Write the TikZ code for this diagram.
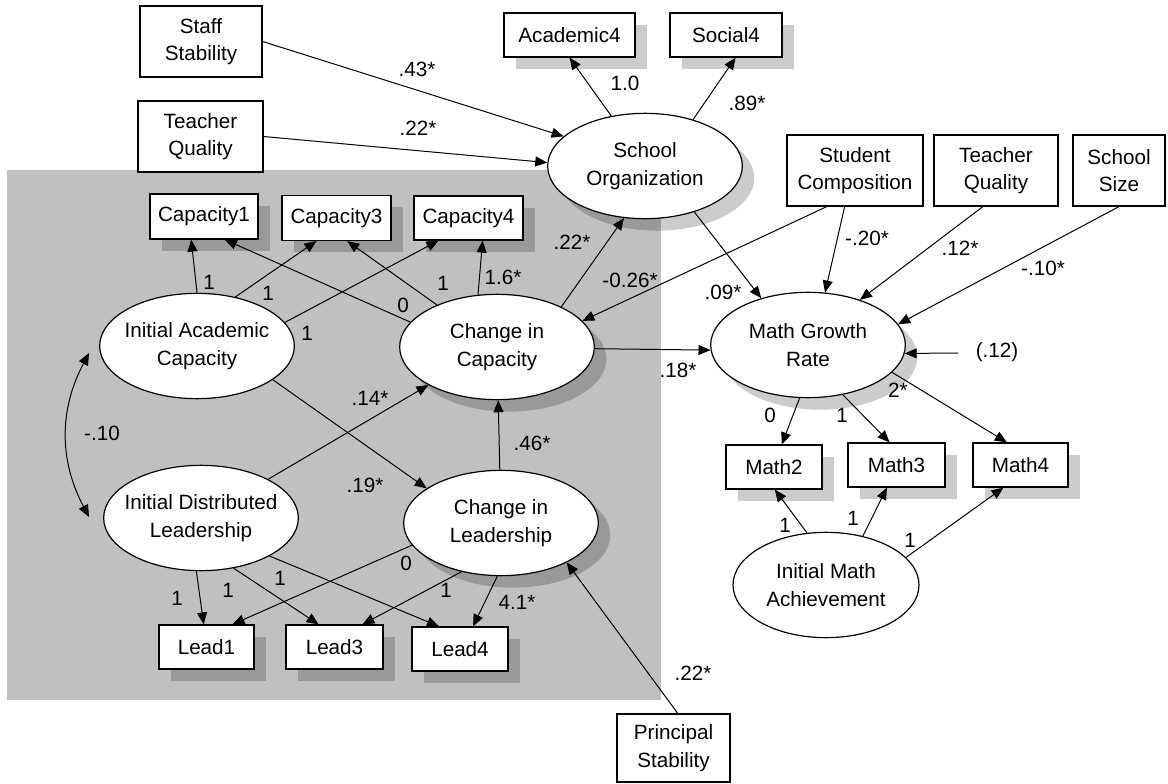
\documentclass[tikz,border=0pt]{standalone}
\usepackage{fontspec}
\setmainfont{Liberation Sans}
\usetikzlibrary{shapes.geometric,arrows.meta,shadows}
\definecolor{regiongray}{RGB}{192,192,192}

\begin{document}
\begin{tikzpicture}[x=0.75pt,y=-0.75pt,>={Triangle[length=9pt,width=7.5pt]},
	every node/.style={font=\fontsize{15.5}{20.5}\selectfont},
	obs/.style={draw,fill=white,line width=0.9pt,inner sep=0pt,align=center,minimum height=33pt},
	exo/.style={obs,minimum height=53.25pt},
	lat/.style={ellipse,draw,fill=white,line width=0.9pt,inner sep=0pt,minimum width=146pt,minimum height=79pt},
	shad/.style={drop shadow={shadow xshift=9pt,shadow yshift=-9pt,fill=black,opacity=.2}},
	txt/.style={align=center,inner sep=0pt},
	coef/.style={inner sep=0pt},
	link/.style={->,line width=0.75pt}]
		\useasboundingbox (0,0) rectangle (1168,784);
		\fill[regiongray] (7,170) rectangle (661,700);
		% exogenous boxes
		\node[exo,minimum width=91.5pt] (staff) at (201,41.5) {Staff\\Stability};
		\node[exo,minimum width=93.75pt] (tqa) at (200.5,136.5) {Teacher\\Quality};
		\node[exo,minimum width=102pt] (comp) at (855,170.5) {Student\\Composition};
		\node[exo,minimum width=93pt] (tqb) at (996,170.5) {Teacher\\Quality};
		\node[exo,minimum width=69pt] (size) at (1119,170.5) {School\\Size};
		\node[exo,minimum width=84.75pt,minimum height=51pt] (prin) at (673.5,748) {Principal\\Stability};
		% indicators
		\node[obs,shad,minimum width=98.25pt] (acad) at (569.5,35) {Academic4};
		\node[obs,shad,minimum width=84pt] (soc) at (726,35) {Social4};
		\node[obs,shad,minimum width=81pt,minimum height=33.75pt] (cap1) at (204,216.5) {Capacity1};
		\node[obs,shad,minimum width=81.75pt,minimum height=33.75pt] (cap3) at (336.5,218) {Capacity3};
		\node[obs,shad,minimum width=81.75pt] (cap4) at (468.5,218) {Capacity4};
		\node[obs,shad,minimum width=71.25pt] (lead1) at (206.5,647) {Lead1};
		\node[obs,shad,minimum width=72.75pt] (lead3) at (334.5,647) {Lead3};
		\node[obs,shad,minimum width=72pt] (lead4) at (460,649) {Lead4};
		\node[obs,shad,minimum width=72pt] (math2) at (774,467) {Math2};
		\node[obs,shad,minimum width=72.75pt] (math3) at (896.5,465) {Math3};
		\node[obs,shad,minimum width=71.25pt] (math4) at (1020.5,465) {Math4};
		% latent variables
		\node[lat,shad,label={[txt]center:School\\Organization}] (sorg) at (645,166) {};
		\node[lat,shad,label={[txt]center:Math Growth\\Rate}] (mgr) at (808,345) {};
		\node[lat,label={[txt]center:Initial Academic\\Capacity}] (iac) at (197,346) {};
		\node[lat,label={[txt]center:Initial Distributed\\Leadership}] (idl) at (201,518) {};
		\node[lat,shad,label={[txt]center:Change in\\Capacity}] (cic) at (497,347) {};
		\node[lat,shad,label={[txt]center:Change in\\Leadership}] (cil) at (501,523) {};
		\node[lat,minimum width=139.5pt,label={[txt]center:Initial Math\\Achievement}] (ima) at (826,585) {};
		% paths
		\foreach \a/\b in {staff.east/sorg.160, tqa.east/sorg.178, sorg.124/acad.south, sorg.44/soc.-67,
			cic.32/sorg.-112, sorg.-43/mgr.135, comp.-128/cic.17, comp.-106/mgr.72, tqb.-110/mgr.41,
			size.south/mgr.13, cic.-1/mgr.-177, mgr.-99/math2.71, mgr.-55/math3.107, mgr.-18/math4.121,
			ima.110/math2.-88, ima.53/math3.-113, ima.19/math4.-127,
			iac.north/cap1.-119, iac.52/cap3.-131, iac.15/cap4.-143,
			cic.164/cap1.-48, cic.145/cap3.-65, cic.110/cap4.-58,
			iac.-24/cil.155, idl.30/cic.-151, cil/cic,
			idl.-95/lead1.97, idl.-57/lead3.125, idl.-29/lead4.133,
			cil.-166/lead1.41, cil.-129/lead3.39, cil.-94/lead4.60, prin.83/cil.-31}
			\draw[link] (\a) -- (\b);
		\draw[<->,line width=0.75pt] ([shift={(-10,7)}]iac.west) to[bend right=28] ([shift={(-14,-1)}]idl.west);
		% residual
		\node[coef] (res) at (997,352) {(.12)};
		\coordinate (e1) at (958,353);
		\draw[link] (e1) -- (mgr.-5);
		% coefficients
		\foreach \x/\y/\t [count=\i] in {417/69/.43*, 418/128/.22*, 625/83/1.0, 747/103/.89*, 572/242/.22*,
			723/292/.09*, 630/280/-0.26*, 867/238/-.20*, 960/248/.12*, 1043/268/-.10*, 678/370/.18*,
			770/415/0, 842/415/1, 898/390/2*, 785/525/1, 853/518/1, 910/540/1,
			209/282/1, 268/293/1, 307/333/1, 403/305/0, 443/283/1, 503/277/1.6*,
			365/485/.19*, 370/398/.14*, 532/443/.46*, 102/433/-.10,
			177/598/1, 228/590/1, 280/578/1, 406/563/0, 446/590/1, 517/602/4.1*, 693/673/.22*}
			\node[coef] (w\i) at (\x,\y) {\t};
\end{tikzpicture}
\end{document}
